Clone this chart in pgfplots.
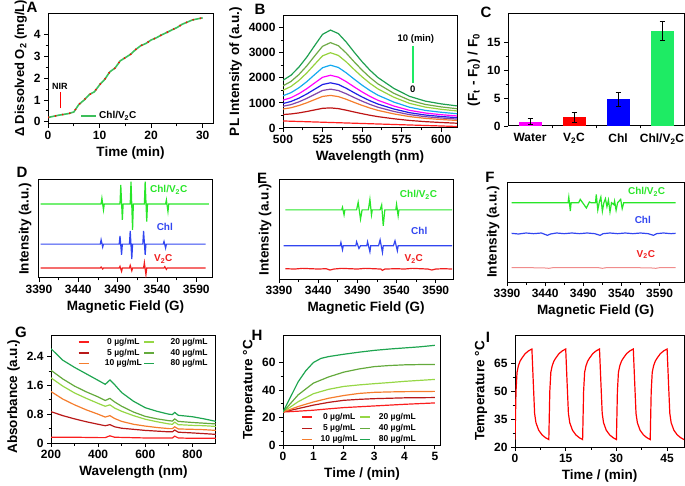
\documentclass[border=0pt]{standalone}
\usepackage{fontspec}
\setmainfont{Liberation Sans}
\usepackage{pgfplots}
\pgfplotsset{compat=1.18}
\definecolor{eg}{RGB}{40,230,40}
\definecolor{eb}{RGB}{50,70,240}
\definecolor{er}{RGB}{240,30,30}
\definecolor{ef}{RGB}{240,140,140}
\definecolor{ag}{RGB}{60,190,90}
\definecolor{c0}{RGB}{250,30,30}
\definecolor{c5}{RGB}{185,25,25}
\definecolor{c10}{RGB}{245,125,45}
\definecolor{c20}{RGB}{150,215,70}
\definecolor{c40}{RGB}{100,170,60}
\definecolor{c80}{RGB}{30,165,80}
\definecolor{b1}{RGB}{255,30,30}
\definecolor{b2}{RGB}{190,20,20}
\definecolor{b3}{RGB}{245,125,45}
\definecolor{b4}{RGB}{130,70,170}
\definecolor{b5}{RGB}{30,30,230}
\definecolor{b6}{RGB}{255,0,255}
\definecolor{b7}{RGB}{20,170,240}
\definecolor{b8}{RGB}{150,210,60}
\definecolor{b9}{RGB}{110,170,70}
\definecolor{b10}{RGB}{30,160,80}
\definecolor{cm}{RGB}{255,0,255}
\definecolor{cr}{RGB}{255,0,0}
\definecolor{cb}{RGB}{0,0,255}
\definecolor{cg}{RGB}{30,235,100}
\tikzset{ann/.style={font=\bfseries\fontsize{10}{10}\selectfont},
 lett/.style={font=\bfseries\fontsize{15}{15}\selectfont}}
\pgfplotsset{
 panel/.style={
  scale only axis, anchor=south west,
  axis line style={line width=1pt},
  tick align=outside, tick pos=left,
  major tick length=4pt, minor tick length=2.5pt,
  every tick/.style={black, line width=0.9pt},
  tick label style={font=\bfseries\fontsize{12}{12}\selectfont},
  label style={font=\bfseries\fontsize{13.5}{14}\selectfont},
  /pgf/number format/assume math mode=true,
  /pgf/number format/1000 sep={},
 },
 esr/.style={panel, xmin=3390, xtick={3390,3440,...,3590}, minor x tick num=1, ytick=\empty,
  xlabel={Magnetic Field (G)}, ylabel={Intensity (a.u.)}},
 leg/.style={legend image code/.code={\draw[##1,line width=1.5pt] (0pt,0pt) -- (10pt,0pt);}},
}
\begin{document}
\begin{tikzpicture}
\useasboundingbox (0,0) rectangle (685pt,485pt);
\node[lett] at (32pt,478pt) {A};
\node[lett] at (260pt,476pt) {B};
\node[lett] at (486pt,473pt) {C};
\node[lett] at (22pt,313pt) {D};
\node[lett] at (262pt,307pt) {E};
\node[lett] at (490pt,308pt) {F};
\node[lett] at (21pt,153pt) {G};
\node[lett] at (257pt,150pt) {H};
\node[lett] at (488pt,148pt) {I};

% ---------------- A
\begin{axis}[panel, at={(48pt,361pt)}, width=165pt, height=111pt,
 xmin=0, xmax=32, ymin=-0.1, ymax=5, xtick={0,10,20,30}, ytick={0,1,2,3,4},
 minor x tick num=1, minor y tick num=1,
 xlabel={Time (min)}, ylabel={Δ Dissolved O\textsubscript{2} (mg/L)},
 ylabel style={font=\bfseries\fontsize{13}{13}\selectfont},
 legend image code/.code={\draw[#1,line width=1.6pt] (0pt,0pt) -- (15pt,0pt);},
 legend style={draw=none, fill=none, at={(axis cs:5.7,0.28)}, anchor=west,
  font=\bfseries\fontsize{10}{10}\selectfont}]
\addplot[ag, line width=1.6pt] coordinates {(0,0.2) (1,0.25) (2,0.3) (3,0.34) (4,0.38) (5,0.45) (6,0.8) (7,1.0) (8,1.25) (9,1.38) (10,1.7) (11,1.95) (12,2.3) (13,2.47) (14,2.8) (15,2.95) (16,3.1) (17,3.32) (18,3.5) (19,3.6) (20,3.76) (21,3.86) (22,3.99) (23,4.1) (24,4.22) (25,4.33) (26,4.48) (27,4.58) (28,4.68) (29,4.73) (30,4.78)};
\addlegendentry{Chl/V\textsubscript{2}C}
\addplot[red, line width=1.6pt, dash pattern=on 1.2pt off 6pt, forget plot] coordinates {(0,0.2) (1,0.25) (2,0.3) (3,0.34) (4,0.38) (5,0.45) (6,0.8) (7,1.0) (8,1.25) (9,1.38) (10,1.7) (11,1.95) (12,2.3) (13,2.47) (14,2.8) (15,2.95) (16,3.1) (17,3.32) (18,3.5) (19,3.6) (20,3.76) (21,3.86) (22,3.99) (23,4.1) (24,4.22) (25,4.33) (26,4.48) (27,4.58) (28,4.68) (29,4.73) (30,4.78)};
\addplot[red, line width=1.2pt, forget plot] coordinates {(2.5,0.62) (2.5,1.36)};
\node[font=\bfseries\fontsize{9}{9}\selectfont] at (axis cs:2.3,1.62) {NIR};
\end{axis}

% ---------------- B
\begin{axis}[panel, at={(283pt,357pt)}, width=174pt, height=113pt,
 xmin=500, xmax=610, ymin=0, ymax=4500, xtick={500,525,...,600}, ytick={0,1000,...,4000},
 minor y tick num=1, minor x tick num=1,
 xlabel={Wavelength (nm)}, ylabel={PL Intensity of (a.u.)}]
\addplot[b1, line width=1.2pt] coordinates {(500,280) (610,60)};
\addplot[b2, line width=1.2pt] coordinates {(500,536) (505,559) (510,601) (515,656) (520,720) (525,783) (530,801) (535,771) (540,709) (545,637) (550,569) (555,507) (560,452) (570,368) (580,300) (590,253) (600,219) (610,190)};
\addplot[b3, line width=1.2pt] coordinates {(500,755) (505,806) (510,893) (515,1003) (520,1131) (525,1256) (530,1298) (535,1250) (540,1143) (545,1019) (550,901) (555,794) (560,702) (570,562) (580,454) (590,384) (600,338) (610,300)};
\addplot[b4, line width=1.2pt] coordinates {(500,865) (505,931) (510,1040) (515,1178) (520,1337) (525,1494) (530,1548) (535,1492) (540,1362) (545,1212) (550,1068) (555,939) (560,828) (570,660) (580,532) (590,450) (600,398) (610,356)};
\addplot[b5, line width=1.2pt] coordinates {(500,975) (505,1055) (510,1187) (515,1353) (520,1544) (525,1732) (530,1799) (535,1733) (540,1581) (545,1404) (550,1235) (555,1084) (560,954) (570,758) (580,609) (590,516) (600,458) (610,412)};
\addplot[b6, line width=1.2pt] coordinates {(500,1108) (505,1205) (510,1364) (515,1563) (520,1793) (525,2019) (530,2100) (535,2024) (540,1845) (545,1636) (550,1437) (555,1258) (560,1105) (570,876) (580,703) (590,596) (600,530) (610,479)};
\addplot[b7, line width=1.2pt] coordinates {(500,1284) (505,1405) (510,1599) (515,1843) (520,2125) (525,2400) (530,2502) (535,2411) (540,2196) (545,1945) (550,1705) (555,1491) (560,1307) (570,1033) (580,827) (590,701) (600,626) (610,568)};
\addplot[b8, line width=1.2pt] coordinates {(500,1503) (505,1652) (510,1891) (515,2190) (520,2535) (525,2873) (530,2998) (535,2890) (540,2631) (545,2327) (550,2037) (555,1778) (560,1557) (570,1227) (580,981) (590,832) (600,744) (610,679)};
\addplot[b9, line width=1.2pt] coordinates {(500,1680) (505,1851) (510,2126) (515,2470) (520,2867) (525,3254) (530,3400) (535,3277) (540,2982) (545,2635) (550,2305) (555,2010) (560,1758) (570,1384) (580,1105) (590,938) (600,840) (610,768)};
\addplot[b10, line width=1.2pt] coordinates {(500,1900) (505,2100) (510,2420) (515,2820) (520,3280) (525,3730) (530,3900) (535,3760) (540,3420) (545,3020) (550,2640) (555,2300) (560,2010) (570,1580) (580,1260) (590,1070) (600,960) (610,880)};
\addplot[cg, line width=1.8pt] coordinates {(582,1800) (582,3270)};
\node[font=\bfseries\fontsize{9.5}{9.5}\selectfont] at (axis cs:584,3560) {10 (min)};
\node[font=\bfseries\fontsize{9.5}{9.5}\selectfont] at (axis cs:582,1540) {0};
\end{axis}

% ---------------- C
\begin{axis}[panel, at={(508pt,359pt)}, width=176pt, height=112pt,
 xmin=-0.5, xmax=3.5, ymin=0, ymax=20, xtick={0,1,2,3},
 xticklabels={Water, V\textsubscript{2}C, Chl, Chl/V\textsubscript{2}C},
 major x tick style={draw=none}, minor xtick={0.5,1.5,2.5},
 ytick={0,5,10,15}, minor y tick num=1,
 ylabel={(F\textsubscript{t} - F\textsubscript{0}) / F\textsubscript{0}}]
\addplot[ybar, bar width=23pt, fill=cm, draw=none, error bars/.cd, y dir=both, y explicit, error bar style={black, line width=1pt}, error mark options={black, rotate=90, mark size=2.5pt, line width=1pt}] coordinates {(0,0.75) +- (0,0.5)};
\addplot[ybar, bar width=23pt, fill=cr, draw=none, error bars/.cd, y dir=both, y explicit, error bar style={black, line width=1pt}, error mark options={black, rotate=90, mark size=2.5pt, line width=1pt}] coordinates {(1,1.55) +- (0,0.9)};
\addplot[ybar, bar width=23pt, fill=cb, draw=none, error bars/.cd, y dir=both, y explicit, error bar style={black, line width=1pt}, error mark options={black, rotate=90, mark size=2.5pt, line width=1pt}] coordinates {(2,4.75) +- (0,1.3)};
\addplot[ybar, bar width=23pt, fill=cg, draw=none, error bars/.cd, y dir=both, y explicit, error bar style={black, line width=1pt}, error mark options={black, rotate=90, mark size=2.5pt, line width=1pt}] coordinates {(3,17.0) +- (0,1.7)};
\end{axis}

% ---------------- D
\begin{axis}[esr, at={(39pt,207pt)}, width=173pt, height=98pt, xmax=3610, ymin=0, ymax=295]
\addplot[eg, line width=1.2pt] coordinates {(3392,223) (3469,223) (3470,240) (3472,205) (3473,223) (3493,223) (3494,280) (3496,175) (3497,223) (3506,223) (3507,290) (3509,145) (3510,223) (3524,223) (3525,290) (3527,170) (3528,223) (3551,223) (3552,235) (3554,200) (3555,223) (3606,223)};
\addplot[eb, line width=1.2pt] coordinates {(3392,102) (3468,102) (3469,115) (3471,93) (3472,102) (3492,102) (3493,127) (3495,70) (3496,102) (3505,102) (3506,142) (3508,57) (3509,102) (3522,102) (3523,142) (3525,70) (3526,102) (3548,102) (3549,110) (3551,90) (3552,102) (3602,102)};
\addplot[er, line width=1.2pt] coordinates {(3392,30) (3468,30) (3469,33) (3471,27) (3472,30) (3492,30) (3493,35) (3495,20) (3496,30) (3505,30) (3506,38) (3508,22) (3509,30) (3523,30) (3524,46) (3526,10) (3527,30) (3549,30) (3550,34) (3552,26) (3553,30) (3602,30)};
\node[ann, text=eg] at (axis cs:3555,265) {Chl/V\textsubscript{2}C};
\node[ann, text=eb] at (axis cs:3550,155) {Chl};
\node[ann, text=er] at (axis cs:3548,57) {V\textsubscript{2}C};
\end{axis}

% ---------------- E
\begin{axis}[esr, at={(279pt,206pt)}, width=174pt, height=99pt, xmax=3612, ymin=0, ymax=298]
\addplot[eg, line width=1.2pt] coordinates {(3398,208) (3470,208) (3471,216) (3473,193) (3474,208) (3489,208) (3491,231) (3494,180) (3496,208) (3504,208) (3506,240) (3508,193) (3509,208) (3519,208) (3521,223) (3523,160) (3525,208) (3539,208) (3540,225) (3542,190) (3543,208) (3611,208)};
\addplot[eb, line width=1.2pt] coordinates {(3396,100) (3468,100) (3469,110) (3471,88) (3472,100) (3488,100) (3489,112) (3492,92) (3494,100) (3502,100) (3503,112) (3506,82) (3507,100) (3517,100) (3519,118) (3522,80) (3523,100) (3536,100) (3538,115) (3541,85) (3542,100) (3611,100)};
\addplot[er, line width=1.2pt] coordinates {(3398,31) (3410,30) (3420,32) (3430,31) (3440,30) (3450,31) (3455,27) (3460,30) (3470,32) (3480,31) (3490,30) (3500,32) (3510,31) (3520,30) (3522,26) (3525,30) (3540,31) (3550,30) (3560,32) (3570,31) (3580,30) (3585,27) (3590,30) (3600,31) (3611,30)};
\node[ann, text=eg] at (axis cs:3568,253) {Chl/V\textsubscript{2}C};
\node[ann, text=eb] at (axis cs:3569,145) {Chl};
\node[ann, text=er] at (axis cs:3562,60) {V\textsubscript{2}C};
\end{axis}

% ---------------- F
\begin{axis}[esr, at={(507pt,203pt)}, width=177pt, height=100pt, xmax=3622, ymin=0, ymax=300]
\addplot[eg, line width=1.2pt] coordinates {(3396,238) (3470,238) (3471,255) (3473,213) (3474,238) (3484,238) (3486,248) (3494,222) (3498,240) (3500,238) (3506,238) (3507,263) (3509,216) (3511,240) (3513,255) (3515,212) (3517,238) (3519,250) (3521,226) (3523,246) (3525,210) (3527,238) (3530,232) (3531,243) (3533,215) (3535,238) (3539,248) (3541,220) (3543,238) (3611,238)};
\addplot[eb, line width=1.2pt] coordinates {(3396,146) (3405,144) (3415,147) (3425,145) (3435,147) (3443,140) (3447,144) (3455,147) (3465,145) (3475,147) (3485,145) (3495,147) (3505,145) (3512,140) (3516,145) (3525,147) (3535,145) (3545,147) (3555,145) (3565,147) (3575,145) (3582,140) (3586,145) (3595,147) (3605,145) (3611,146)};
\addplot[ef, line width=1pt] coordinates {(3396,43) (3420,43) (3440,42) (3445,41) (3450,43) (3480,43) (3510,43) (3515,41) (3520,43) (3560,43) (3580,42) (3585,41) (3590,43) (3611,43)};
\node[ann, text=eg] at (axis cs:3573,270) {Chl/V\textsubscript{2}C};
\node[ann, text=eb] at (axis cs:3568,185) {Chl};
\node[ann, text=er] at (axis cs:3572,83) {V\textsubscript{2}C};
\end{axis}

% ---------------- G
\begin{axis}[panel, at={(51pt,42pt)}, width=165pt, height=108pt,
 xmin=200, xmax=900, ymin=0, ymax=3.0, xtick={200,400,600,800}, ytick={0,0.8,1.6,2.4},
 minor x tick num=1, minor y tick num=1,
 xlabel={Wavelength (nm)}, ylabel={Absorbance (a.u.)},
 every axis y label/.append style={at={(ticklabel cs:0.43)}},
 leg, legend columns=2,
 legend style={draw=none, fill=none, at={(axis cs:300,3.02)}, anchor=north west,
  font=\bfseries\fontsize{8.5}{9}\selectfont, nodes={inner sep=1.6pt},
  /tikz/every odd column/.append style={column sep=14pt}}]
\addplot[c0, line width=1.2pt] coordinates {(200,0.16) (300,0.16) (400,0.15) (430,0.15) (450,0.20) (470,0.16) (600,0.14) (700,0.14) (715,0.14) (725,0.19) (740,0.14) (800,0.13) (900,0.13)};
\addlegendentry{0 µg/mL}
\addplot[c20, line width=1.2pt] coordinates {(200,1.81) (250,1.58) (300,1.39) (350,1.24) (400,1.10) (430,1.02) (450,1.06) (470,0.97) (500,0.88) (550,0.76) (600,0.66) (650,0.59) (700,0.53) (715,0.52) (725,0.58) (740,0.51) (800,0.49) (850,0.48) (900,0.46)};
\addlegendentry{20 µg/mL}
\addplot[c5, line width=1.2pt] coordinates {(200,0.87) (250,0.76) (300,0.67) (350,0.59) (400,0.52) (430,0.48) (450,0.51) (470,0.45) (500,0.41) (550,0.38) (600,0.35) (650,0.33) (700,0.31) (715,0.31) (725,0.36) (740,0.30) (800,0.28) (850,0.26) (900,0.24)};
\addlegendentry{5 µg/mL}
\addplot[c40, line width=1.2pt] coordinates {(200,2.02) (250,1.78) (300,1.58) (350,1.42) (400,1.28) (430,1.18) (450,1.24) (470,1.14) (500,1.02) (550,0.86) (600,0.74) (650,0.67) (700,0.62) (715,0.61) (725,0.67) (740,0.60) (800,0.57) (850,0.55) (900,0.53)};
\addlegendentry{40 µg/mL}
\addplot[c10, line width=1.2pt] coordinates {(200,1.43) (250,1.22) (300,1.06) (350,0.92) (400,0.80) (430,0.72) (450,0.76) (470,0.68) (500,0.60) (550,0.52) (600,0.47) (650,0.43) (700,0.40) (715,0.40) (725,0.45) (740,0.39) (800,0.38) (850,0.37) (900,0.35)};
\addlegendentry{10 µg/mL}
\addplot[c80, line width=1.2pt] coordinates {(200,2.62) (250,2.30) (300,2.10) (350,1.92) (400,1.74) (430,1.63) (450,1.75) (470,1.62) (500,1.40) (550,1.16) (600,0.98) (650,0.88) (700,0.80) (715,0.79) (725,0.85) (740,0.77) (800,0.73) (850,0.67) (900,0.60)};
\addlegendentry{80 µg/mL}
\end{axis}

% ---------------- H
\begin{axis}[panel, at={(283pt,40pt)}, width=158pt, height=110pt,
 xmin=0, xmax=5.2, ymin=0, ymax=80, xtick={0,1,2,3,4,5}, ytick={0,20,40,60},
 minor y tick num=1,
 xlabel={Time / (min)}, ylabel={Temperature °C},
 leg, legend columns=2,
 legend style={draw=none, fill=none, at={(axis cs:0.5,26)}, anchor=north west,
  font=\bfseries\fontsize{8.5}{9}\selectfont, nodes={inner sep=1.8pt},
  /tikz/every odd column/.append style={column sep=6pt}}]
\addplot[c0, line width=1.2pt] coordinates {(0,24) (0.5,24.6) (1,25.3) (1.5,26.3) (2,27.2) (2.5,27.8) (3,28.4) (3.5,29) (4,29.6) (4.5,30.1) (5,30.6)};
\addlegendentry{0 µg/mL}
\addplot[c20, line width=1.2pt] coordinates {(0,24) (0.5,31.5) (1,37.3) (1.5,40.5) (2,42.6) (2.5,43.7) (3,44.6) (3.5,45.4) (4,46.3) (4.5,47) (5,47.7)};
\addlegendentry{20 µg/mL}
\addplot[c5, line width=1.2pt] coordinates {(0,24) (0.5,26.5) (1,29) (1.5,31) (2,32.5) (2.5,33.2) (3,33.7) (3.5,34) (4,34.3) (4.5,34.4) (5,34.5)};
\addlegendentry{5 µg/mL}
\addplot[c40, line width=1.2pt] coordinates {(0,24) (0.5,36.5) (1,45) (1.5,49.5) (2,53) (2.5,55.3) (3,57) (3.5,57.8) (4,58.3) (4.5,58.5) (5,58.5)};
\addlegendentry{40 µg/mL}
\addplot[c10, line width=1.2pt] coordinates {(0,24) (0.5,28) (1,31.3) (1.5,34) (2,36) (2.5,37.5) (3,38.3) (3.5,38.6) (4,38.8) (4.5,38.9) (5,39)};
\addlegendentry{10 µg/mL}
\addplot[c80, line width=1.2pt] coordinates {(0,24) (0.25,35) (0.5,46) (0.75,54) (1,60) (1.25,63) (1.5,64.3) (2,66) (2.5,67.5) (3,68.8) (3.5,69.8) (4,70.6) (4.5,71.4) (5,72.5)};
\addlegendentry{80 µg/mL}
\end{axis}

% ---------------- I
\begin{axis}[panel, at={(515pt,38pt)}, width=169pt, height=112pt,
 xmin=0, xmax=50, ymin=20, ymax=80, xtick={0,15,30,45}, ytick={20,35,50,65},
 minor x tick num=1, minor y tick num=1,
 xlabel={Time / (min)}, ylabel={Temperature °C}]
\addplot[red, line width=1.2pt] coordinates {
(0,24) (0.3,50) (0.6,60) (1,63.5) (1.5,66) (2,67.5) (3,70) (4,71.5) (5,72.5) (5.4,55) (5.8,38) (6.2,33) (7,29) (8,26.5) (9,25) (10,24)
(10.3,50) (10.6,60) (11,63.5) (11.5,66) (12,67.5) (13,70) (14,71.5) (15,72.5) (15.4,55) (15.8,38) (16.2,33) (17,29) (18,26.5) (19,25) (20,24)
(20.3,50) (20.6,60) (21,63.5) (21.5,66) (22,67.5) (23,70) (24,71.5) (25,72.5) (25.4,55) (25.8,38) (26.2,33) (27,29) (28,26.5) (29,25) (30,24)
(30.3,50) (30.6,60) (31,63.5) (31.5,66) (32,67.5) (33,70) (34,71.5) (35,72.5) (35.4,55) (35.8,38) (36.2,33) (37,29) (38,26.5) (39,25) (40,24)
(40.3,50) (40.6,60) (41,63.5) (41.5,66) (42,67.5) (43,70) (44,71.5) (45,72.5) (45.4,55) (45.8,38) (46.2,33) (47,29) (48,26.5) (49,25) (50,24)};
\end{axis}
\end{tikzpicture}
\end{document}
